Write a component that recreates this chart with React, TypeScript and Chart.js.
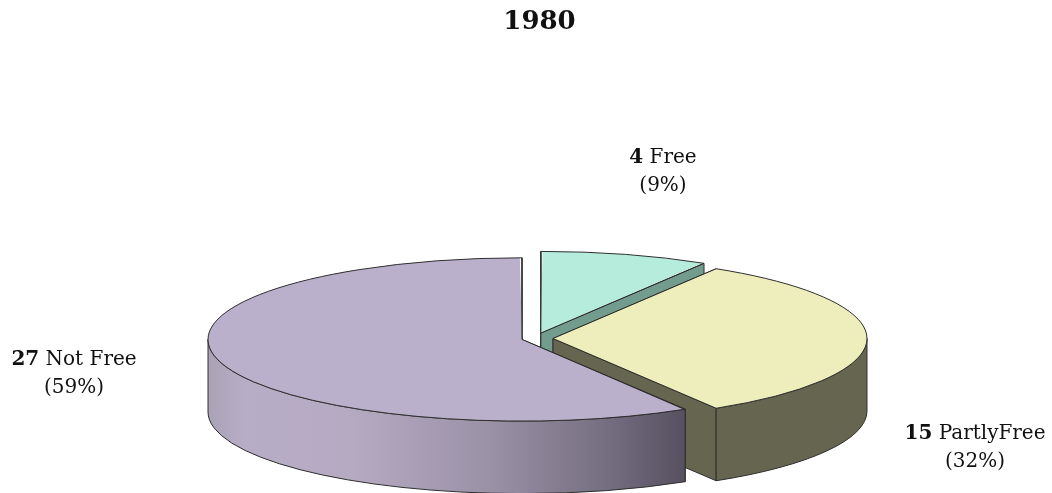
import React, { useEffect, useRef } from "react";
import { Chart, registerables } from "chart.js";

Chart.register(...registerables);

const TITLE = "1980";
const categories = ["Free", "PartlyFree", "Not Free"];
const values = [4, 15, 27];
const percents = ["(9%)", "(32%)", "(59%)"];
const topColors = ["#b5ecdc", "#eeeebd", "#bbb0cb"];
const wallColors = ["#729c8e", "#666650", "#b0a6bb"];
const explode = [87, 72, 54];

const FONT = '"DejaVu Serif", serif';
const RADIUS = 314;
const SQUASH = 0.26;
const DEPTH = 72.5;
const SHIFT_X = -4.5;
const EDGE = "#2e2e2e";
const labelCenters = [
  { x: 663, y: 163 },
  { x: 975, y: 439 },
  { x: 74, y: 365 },
];
const LINE_GAP = 28;

function geom(chart: any, arc: any) {
  const mid = (arc.startAngle + arc.endAngle) / 2;
  const t = (arc.options.offset || 0) / 4;
  const cy0 = arc.y;
  const ox = arc.x + SHIFT_X + Math.cos(mid) * t;
  const oy = cy0 + Math.sin(mid) * t * SQUASH;
  return { ox, oy, rx: RADIUS, ry: RADIUS * SQUASH, a0: arc.startAngle, a1: arc.endAngle };
}

function wallFill(ctx: CanvasRenderingContext2D, i: number, g: any) {
  if (i !== 2) return wallColors[i];
  const grad = ctx.createLinearGradient(g.ox - g.rx, 0, g.ox + g.rx * 0.52, 0);
  grad.addColorStop(0, "#aba2b6");
  grad.addColorStop(0.08, "#b8adc6");
  grad.addColorStop(0.3, "#b5aac2");
  grad.addColorStop(0.6, "#9a90a6");
  grad.addColorStop(0.85, "#736b7e");
  grad.addColorStop(1, "#565060");
  return grad;
}

const pie3d = {
  id: "pie3d",
  afterDatasetUpdate(chart: any) {
    chart.getDatasetMeta(0).data.forEach((arc: any) => {
      // ArcElement.draw grows the radius by offset/4 * fix, so cancel that out
      const t = (arc.options.offset || 0) / 4;
      const fix = 1 - Math.sin(Math.min(Math.PI, arc.circumference || 0));
      arc.outerRadius = RADIUS - t * fix;
    });
  },
  beforeDatasetsDraw(chart: any) {
    const ctx: CanvasRenderingContext2D = chart.ctx;
    chart.getDatasetMeta(0).data.forEach((arc: any, i: number) => {
      const g = geom(chart, arc);
      ctx.save();
      ctx.lineWidth = 1;
      ctx.strokeStyle = EDGE;
      ctx.fillStyle = wallFill(ctx, i, g);
      [g.a0, g.a1].forEach((a: number) => {
        const px = g.ox + g.rx * Math.cos(a);
        const py = g.oy + g.ry * Math.sin(a);
        ctx.beginPath();
        ctx.moveTo(g.ox, g.oy);
        ctx.lineTo(px, py);
        ctx.lineTo(px, py + DEPTH);
        ctx.lineTo(g.ox, g.oy + DEPTH);
        ctx.closePath();
        ctx.fill();
        ctx.stroke();
      });
      const TAU = Math.PI * 2;
      const ranges: [number, number][] = [
        [0, Math.PI],
        [TAU, TAU + Math.PI],
      ];
      ranges.forEach(([lo, hi]) => {
        const s = Math.max(g.a0, lo);
        const e = Math.min(g.a1, hi);
        if (e <= s) return;
        ctx.beginPath();
        ctx.ellipse(g.ox, g.oy, g.rx, g.ry, 0, s, e);
        ctx.ellipse(g.ox, g.oy + DEPTH, g.rx, g.ry, 0, e, s, true);
        ctx.closePath();
        ctx.fill();
        ctx.stroke();
      });
      ctx.restore();
    });
  },
  beforeDatasetDraw(chart: any) {
    const ctx = chart.ctx;
    const cy = chart.getDatasetMeta(0).data[0].y;
    ctx.save();
    ctx.translate(SHIFT_X, cy);
    ctx.scale(1, SQUASH);
    ctx.translate(0, -cy);
  },
  afterDatasetDraw(chart: any) {
    chart.ctx.restore();
  },
  afterDatasetsDraw(chart: any) {
    const ctx: CanvasRenderingContext2D = chart.ctx;
    chart.getDatasetMeta(0).data.forEach((arc: any, i: number) => {
      const g = geom(chart, arc);
      ctx.save();
      ctx.lineWidth = 1;
      ctx.strokeStyle = EDGE;
      ctx.beginPath();
      ctx.moveTo(g.ox, g.oy);
      ctx.ellipse(g.ox, g.oy, g.rx, g.ry, 0, g.a0, g.a1);
      ctx.closePath();
      ctx.stroke();
      ctx.restore();

      const c = labelCenters[i];
      const num = String(values[i]);
      const rest = " " + categories[i];
      ctx.save();
      ctx.fillStyle = "#111";
      ctx.textBaseline = "alphabetic";
      ctx.textAlign = "left";
      ctx.font = `bold 20px ${FONT}`;
      const w1 = ctx.measureText(num).width;
      ctx.font = `20px ${FONT}`;
      const w2 = ctx.measureText(rest).width;
      const left = c.x - (w1 + w2) / 2;
      ctx.font = `bold 20px ${FONT}`;
      ctx.fillText(num, left, c.y);
      ctx.font = `20px ${FONT}`;
      ctx.fillText(rest, left + w1, c.y);
      ctx.textAlign = "center";
      ctx.fillText(percents[i], c.x, c.y + LINE_GAP);
      ctx.restore();
    });
  },
};

export default function App() {
  const ref = useRef<HTMLCanvasElement>(null);
  useEffect(() => {
    const chart = new Chart(ref.current!, {
      type: "pie",
      data: {
        labels: categories,
        datasets: [
          {
            data: values,
            backgroundColor: topColors,
            borderWidth: 0,
            offset: explode,
            hoverOffset: 0,
            clip: false,
          } as any,
        ],
      },
      options: {
        responsive: false,
        animation: false,
        events: [],
        radius: RADIUS,
        layout: { padding: { left: 27 } },
        plugins: {
          legend: { display: false },
          tooltip: { enabled: false },
          title: {
            display: true,
            text: TITLE,
            color: "#111",
            font: { family: FONT, size: 26, weight: "bold" },
            padding: { top: 7, bottom: 145.8 },
          },
        },
      } as any,
      plugins: [pie3d],
    });
    return () => chart.destroy();
  }, []);
  return (
    <div style={{ position: "absolute", left: 0, top: 0, width: 1052, height: 493, background: "#fff" }}>
      <canvas ref={ref} width={1052} height={493} style={{ display: "block" }} />
    </div>
  );
}
